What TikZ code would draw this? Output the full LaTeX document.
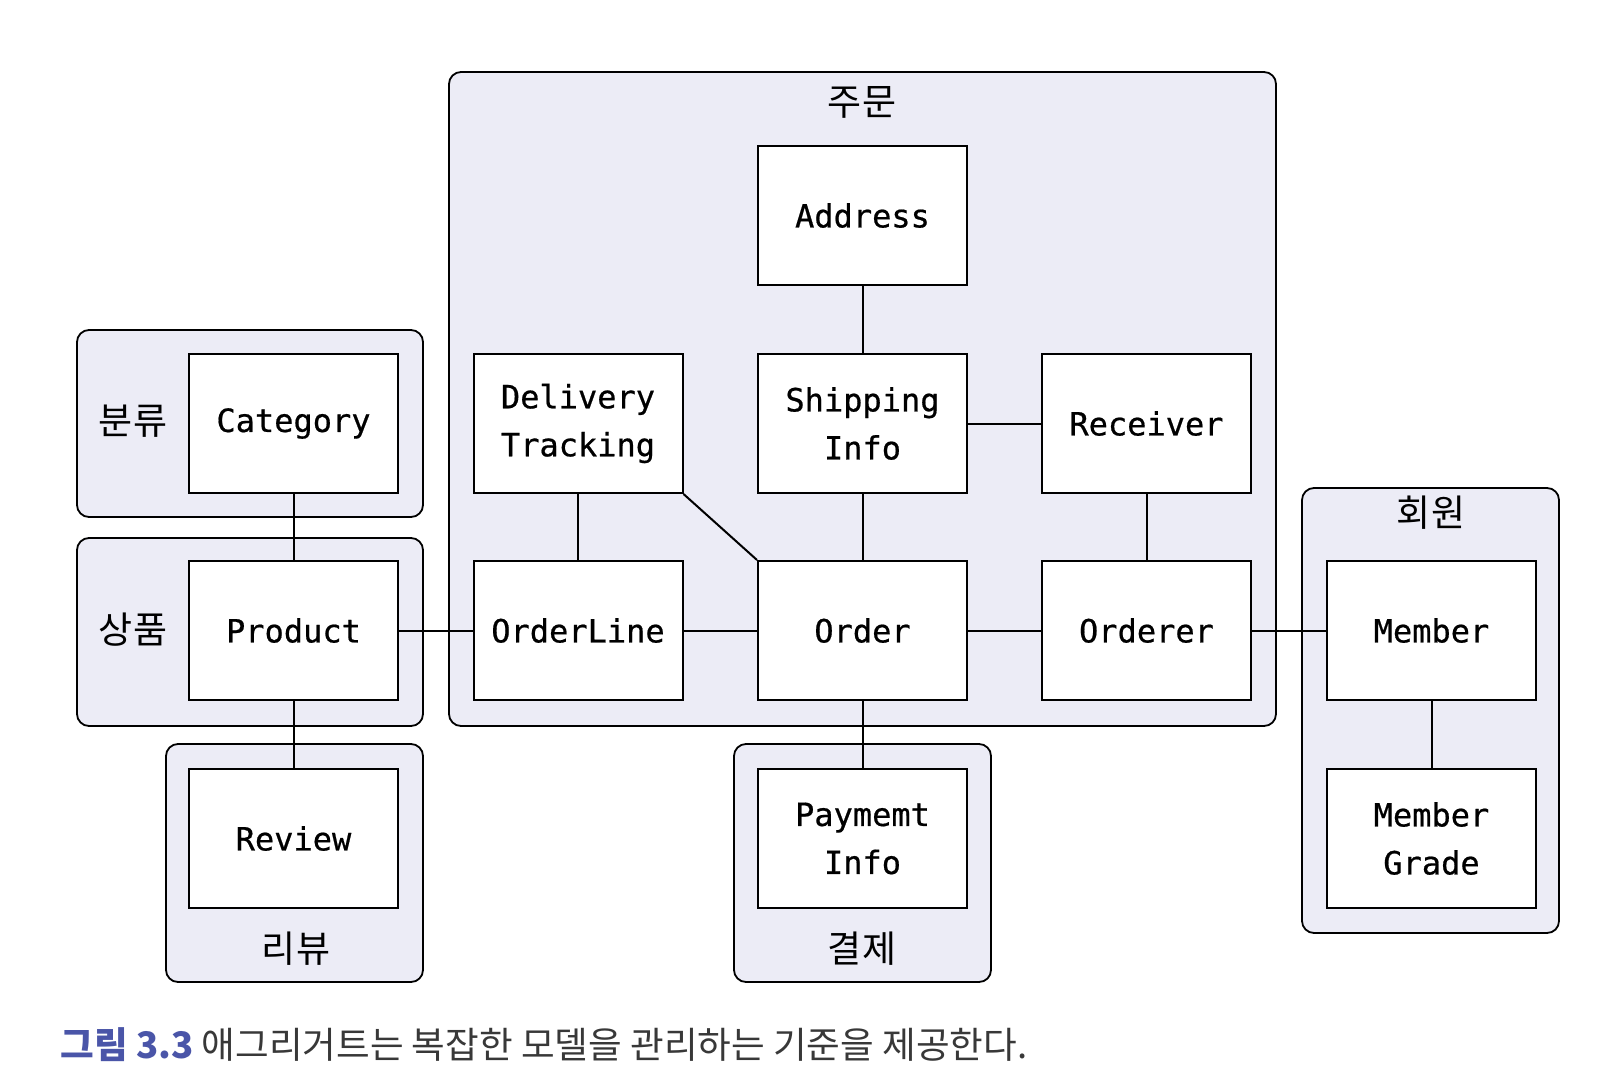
\documentclass[tikz,border=0pt]{standalone}
\usepackage{fontspec}
\usepackage{xcolor}
\usepackage{tikz}
\usetikzlibrary{positioning}
\newfontfamily\krfont{Noto Sans CJK KR}
\newfontfamily\boxfont[FakeBold=0.6]{DejaVu Sans Mono}
\definecolor{groupfill}{HTML}{ECECF6}
\definecolor{capblue}{HTML}{4A55A8}
\definecolor{capgray}{HTML}{383838}

\begin{document}
\begin{tikzpicture}[x=0.5pt, y=-0.5pt,
    entity/.style={rectangle, draw=black, fill=white, line width=1pt, minimum width=104.5pt, minimum height=69.5pt, inner sep=0pt, align=center, font=\boxfont\fontsize{16}{24}\selectfont},
    group/.style={draw=black, fill=groupfill, line width=0.9pt, rounded corners=6pt},
    glabel/.style={font=\krfont\fontsize{18.5}{22}\selectfont},
    link/.style={line width=1pt, color=black}
]
    \useasboundingbox (0,0) rectangle (1600,1086);

    % Aggregate groups
    \draw[group] (449,72) rectangle (1276,726);
    \draw[group] (77,330) rectangle (423,517);
    \draw[group] (77,538) rectangle (423,726);
    \draw[group] (166,744) rectangle (423,982);
    \draw[group] (734,744) rectangle (991,982);
    \draw[group] (1302,488) rectangle (1559,933);

    \node[glabel] (lorder) at (862,102) {주문};
    \node[glabel] (lcat) at (133,421) {분류};
    \node[glabel] (lprod) at (133,630) {상품};
    \node[glabel] (lreview) at (296,949) {리뷰};
    \node[glabel] (lpay) at (862,949) {결제};
    \node[glabel] (lmember) at (1431,513) {회원};

    % Order
    \node[entity] (address) at (862.5,215.5) {Address};
    \node[entity] (dtrack) at (578,423.5) {Delivery\\Tracking};
    \node[entity] (shipping) at (862.5,423.5) {Shipping\\Info};
    \node[entity] (receiver) at (1146.5,423.5) {Receiver};
    \node[entity] (orderline) at (578,630.5) {OrderLine};
    \node[entity] (order) at (862.5,630.5) {Order};
    \node[entity] (orderer) at (1146.5,630.5) {Orderer};

    % Category, product, review
    \node[entity] (category) at (293.5,423.5) {Category};
    \node[entity] (product) at (293.5,630.5) {Product};
    \node[entity] (review) at (293.5,838.5) {Review};

    % Payment
    \node[entity] (payment) at (862.5,838.5) {Paymemt\\Info};

    % Member
    \node[entity] (member) at (1431.5,630.5) {Member};
    \node[entity] (grade) at (1431.5,838.5) {Member\\Grade};

    \draw[link] (address) -- (shipping);
    \draw[link] (shipping) -- (receiver);
    \draw[link] (dtrack) -- (orderline);
    \draw[link] (dtrack.south east) -- (order.north west);
    \draw[link] (shipping) -- (order);
    \draw[link] (receiver) -- (orderer);
    \draw[link] (category) -- (product);
    \draw[link] (product) -- (orderline);
    \draw[link] (orderline) -- (order);
    \draw[link] (order) -- (orderer);
    \draw[link] (orderer) -- (member);
    \draw[link] (product) -- (review);
    \draw[link] (order) -- (payment);
    \draw[link] (member) -- (grade);

    % Caption
    \node[anchor=base west, inner sep=0pt, font=\krfont\fontsize{18.3}{22}\selectfont] (caption) at (60,1058)
        {\textcolor{capblue}{\bfseries 그림 3.3} \textcolor{capgray}{애그리거트는 복잡한 모델을 관리하는 기준을 제공한다.}};
\end{tikzpicture}
\end{document}
